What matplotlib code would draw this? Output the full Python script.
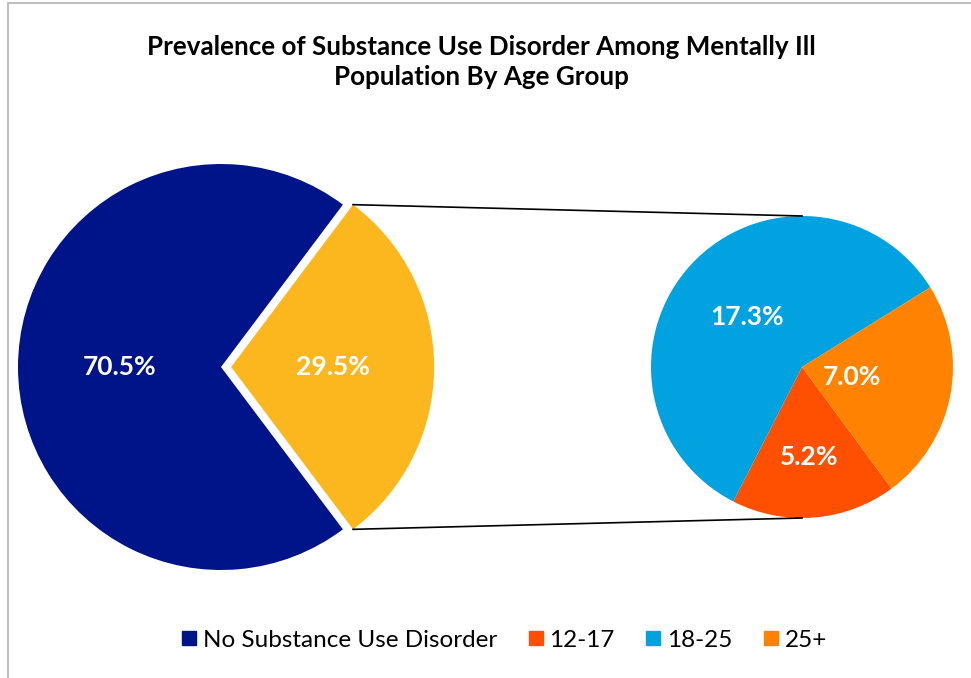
import numpy as np
import matplotlib.pyplot as plt
from matplotlib.lines import Line2D

plt.rcParams['font.family'] = ['Lato', 'DejaVu Sans']

# dados
main_labels = ["No Substance Use Disorder", "Substance Use Disorder"]
main_values = [70.5, 29.5]
main_colors = ["#001489", "#FDB71E"]

sub_labels = ["12-17", "18-25", "25+"]
sub_values = [5.2, 17.3, 7.0]
sub_colors = ["#FF4F00", "#00A2DF", "#FF8200"]

title = "Prevalence of Substance Use Disorder Among Mentally Ill\nPopulation By Age Group"

W, H = 971, 678
fig = plt.figure(figsize=(W / 100, H / 100), dpi=100)
ax = fig.add_axes([0, 0, 1, 1])

lbl = dict(color="white", fontsize=19, fontweight="bold")

# pizza principal
c1 = (221, H - 367)
r1 = 203
start1 = main_values[1] / sum(main_values) * 180
w1, t1, a1 = ax.pie(main_values, colors=main_colors, startangle=start1,
                    explode=[0, 0.05 * r1], center=c1, radius=r1,
                    autopct="%1.1f%%", pctdistance=0.5, textprops=lbl,
                    wedgeprops=dict(linewidth=0), frame=True)

# pizza secundaria (rotulos com o valor real, nao % do subtotal)
c2 = (802, H - 367)
r2 = 151
tot2 = sum(sub_values)
w2, t2, a2 = ax.pie(sub_values, colors=sub_colors, startangle=-53.6,
                    counterclock=False, center=c2, radius=r2,
                    autopct=lambda p: "%.1f%%" % (p * tot2 / 100), textprops=lbl,
                    wedgeprops=dict(linewidth=0), frame=True)
ax.set_xlim(0, W)
ax.set_ylim(0, H)
ax.set_aspect("equal")
ax.axis("off")

# posicao dos rotulos no pie secundario (estilo excel)
dists = [0.60, 0.49, 0.34]
for w, txt, d in zip(w2, a2, dists):
    ang = np.deg2rad((w.theta1 + w.theta2) / 2)
    txt.set_position((c2[0] + d * r2 * np.cos(ang), c2[1] + d * r2 * np.sin(ang)))

# linhas de ligacao
yw = w1[1]
cx, cy = yw.center
rr = yw.r
for th, ty in [(yw.theta2, c2[1] + r2), (yw.theta1, c2[1] - r2)]:
    px = cx + rr * np.cos(np.deg2rad(th))
    py = cy + rr * np.sin(np.deg2rad(th))
    ax.plot([px, c2[0]], [py, ty], color="black", lw=1.2)

fig.text(481 / W, 1 - 62 / H, title, ha="center", va="center",
         fontsize=18.7, fontweight="bold", linespacing=1.3)

# legenda
handles = [Line2D([], [], marker="s", ls="", color=main_colors[0], markersize=10)]
for c in sub_colors:
    handles.append(Line2D([], [], marker="s", ls="", color=c, markersize=10))
leg_labels = [main_labels[0]] + sub_labels
fig.legend(handles, leg_labels, loc="center", bbox_to_anchor=(502 / W, 1 - 640 / H),
           ncol=4, frameon=False, fontsize=17.5, handletextpad=0.05,
           columnspacing=1.1, handlelength=1.0)

# borda
fig.add_artist(Line2D([7.5 / W, 7.5 / W], [0, 1 - 3 / H], color="#BFBFBF", lw=1.5))
fig.add_artist(Line2D([7.5 / W, 1], [1 - 3 / H, 1 - 3 / H], color="#BFBFBF", lw=1.5))

fig.savefig("out.png", dpi=100, facecolor="white")
